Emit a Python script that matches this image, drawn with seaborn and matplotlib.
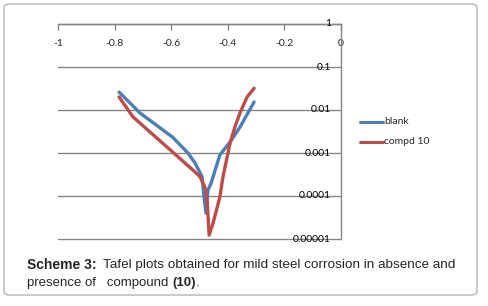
import numpy as np
import pandas as pd
import seaborn as sns
import matplotlib.pyplot as plt
from matplotlib.patches import FancyBboxPatch
from matplotlib.transforms import blended_transform_factory

# potential (V) and current density
blank_x = [-0.784, -0.710, -0.594, -0.541, -0.516, -0.491, -0.484, -0.477,
           -0.470, -0.459, -0.428, -0.392, -0.357, -0.307]
blank_y = [0.026, 0.0085, 0.0023, 0.0010, 0.00059, 0.00028, 0.000095, 0.00004,
           0.000138, 0.0002, 0.0009, 0.0018, 0.004, 0.0154]
compd_x = [-0.784, -0.735, -0.615, -0.523, -0.498, -0.481, -0.473, -0.466,
           -0.452, -0.428, -0.417, -0.392, -0.375, -0.357, -0.332, -0.307]
compd_y = [0.020, 0.0069, 0.00138, 0.0004, 0.00028, 0.00016, 0.00008, 0.0000123,
           0.0000235, 0.000095, 0.00028, 0.0017, 0.004, 0.0085, 0.020, 0.032]

x_ticks = [-1, -0.8, -0.6, -0.4, -0.2, 0]
x_labels = ["-1", "-0.8", "-0.6", "-0.4", "-0.2", "0"]
y_ticks = [1, 0.1, 0.01, 0.001, 0.0001, 0.00001]
y_labels = ["1", "0.1", "0.01", "0.001", "0.0001", "0.00001"]

df = pd.concat([
    pd.DataFrame({"E": blank_x, "I": blank_y, "series": "blank"}),
    pd.DataFrame({"E": compd_x, "I": compd_y, "series": "compd 10"}),
])

sns.set_theme(style="white")
plt.rcParams["font.family"] = ["Lato", "DejaVu Sans"]

W, H = 489, 306
fig = plt.figure(figsize=(W / 100, H / 100), dpi=100)

# rounded frame round the whole figure
frame = FancyBboxPatch((4 / W, 11 / H), 473 / W, 291 / H,
                       boxstyle="round,pad=0,rounding_size=0.012",
                       transform=fig.transFigure, facecolor="none",
                       edgecolor="#b5b5b5", linewidth=1.0, zorder=-1)
fig.patches.append(frame)

ax = fig.add_axes([58 / W, 1 - 239 / H, 283 / W, 215 / H])
ax.patch.set_alpha(0)

sns.lineplot(data=df, x="E", y="I", hue="series", sort=False, estimator=None,
             units="series", palette={"blank": "#4a7ebb", "compd 10": "#be4b48"},
             linewidth=2.4, ax=ax, legend=False)

ax.set_yscale("log")
ax.set_xlim(-1, 0)
ax.set_ylim(0.00001, 1)
ax.minorticks_off()
ax.set_xlabel("")
ax.set_ylabel("")

for s in ["left", "bottom"]:
    ax.spines[s].set_visible(False)
for s in ["top", "right"]:
    ax.spines[s].set_color("#868686")
    ax.spines[s].set_linewidth(1.0)

# x axis sits on top, labels hang just below it
ax.xaxis.set_ticks_position("top")
ax.set_xticks(x_ticks)
ax.set_xticklabels(x_labels)
ax.tick_params(axis="x", direction="in", length=4, width=1, color="#868686",
               labelsize=7.5, pad=-17, labeltop=True, labelbottom=False)

# y axis crosses at x=0, labels to its left
ax.set_yticks(y_ticks)
ax.tick_params(axis="y", length=0, labelleft=False, labelright=False)
for v in y_ticks:
    ax.axhline(v, color="#868686", linewidth=1.0, clip_on=False, zorder=0.5)
tr = blended_transform_factory(ax.transAxes, ax.transData)
for v, lab in zip(y_ticks, y_labels):
    ax.text(1 - 10 / 283, v, lab, transform=tr, ha="right", va="center",
            fontsize=7.5, color="black")

# legend
for i, (name, col) in enumerate([("blank", "#4a7ebb"), ("compd 10", "#be4b48")]):
    yy = 1 - (122 + 20 * i) / H
    fig.add_artist(plt.Line2D([360 / W, 383 / W], [yy, yy], color=col,
                              linewidth=2.2, transform=fig.transFigure))
    fig.text(384 / W, yy, name, ha="left", va="center", fontsize=7.5)

# caption
fam = ["Liberation Sans", "DejaVu Sans"]
fig.canvas.draw()
r = fig.canvas.get_renderer()
y1 = 1 - 265 / H
y2 = 1 - 283 / H
t = fig.text(27 / W, y1, "Scheme 3:", fontweight="bold", va="center",
             family=fam, fontsize=10)
x = t.get_window_extent(r).x1 / W
fig.text(x + 6 / W, y1, "Tafel plots obtained for mild steel corrosion in absence and",
         va="center", family=fam, fontsize=9.7)
t = fig.text(27 / W, y2, "presence of   compound ", va="center", family=fam, fontsize=9.5)
x = t.get_window_extent(r).x1 / W
t = fig.text(x, y2, "(10)", fontweight="bold", va="center", family=fam, fontsize=9.5)
x = t.get_window_extent(r).x1 / W
fig.text(x, y2, ".", va="center", family=fam, fontsize=9.5)

fig.savefig("out.png", dpi=100)
